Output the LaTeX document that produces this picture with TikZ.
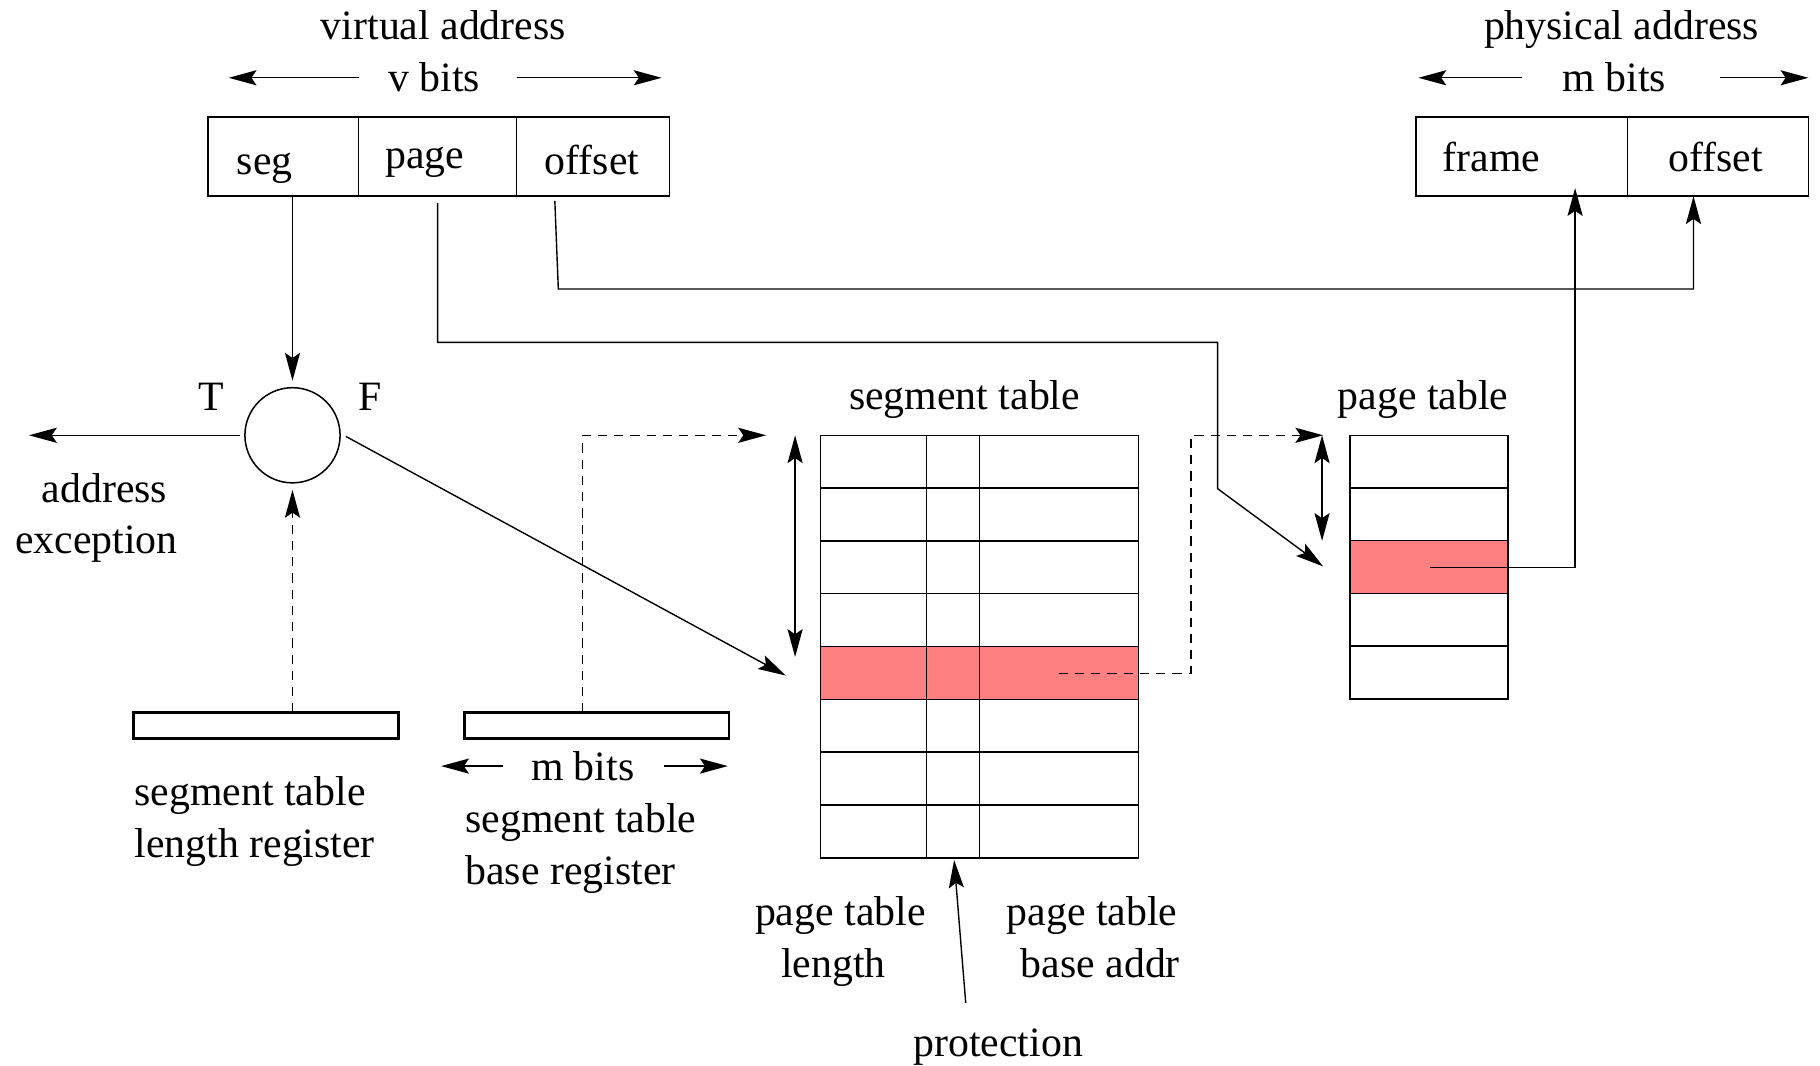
\documentclass[tikz,border=0pt]{standalone}
\usepackage{fontspec}
\setmainfont{Liberation Serif}
\usetikzlibrary{arrows.meta}
\definecolor{hilite}{RGB}{255,128,128}
\begin{document}
\begin{tikzpicture}[x=0.5pt,y=-0.5pt,
  every node/.style={inner sep=0pt,outer sep=0pt,font=\fontsize{18}{22}\selectfont},
  ln/.style={line width=0.6pt},
  tip/.style={-{Stealth[length=12pt,width=6.5pt,inset=2.2pt]}},
  arr/.style={ln,tip},
  darr/.style={ln,{Stealth[length=12pt,width=6.5pt,inset=2.2pt]}-{Stealth[length=12pt,width=6.5pt,inset=2.2pt]}},
  dsh/.style={ln,dash pattern=on 4pt off 3pt},
  cell/.style={draw,line width=0.65pt,minimum height=34pt},
  reg/.style={draw,line width=1.2pt,minimum width=114pt,minimum height=11pt},
  strow/.style={draw,line width=0.65pt,minimum width=137pt,minimum height=22.75pt},
  ptrow/.style={draw,line width=0.65pt,minimum width=68pt,minimum height=22.7pt},
  lbl/.style={anchor=base},
  lbll/.style={anchor=base west}]
\useasboundingbox (0,0) rectangle (1568,917.6);

% virtual address
\node[cell,minimum width=65pt] (segc) at (244,135) {};
\node[cell,minimum width=68pt] (pagec) at (377,135) {};
\node[cell,minimum width=66pt] (offc) at (511,135) {};
\node[lbl] (tseg) at (228,150) {seg};
\node[lbl] (tpage) at (366,145) {page};
\node[lbl] (toff) at (510,150) {offset};
\node[lbl] (tva) at (382,34) {virtual address};
\node[lbl] (tvb) at (374,79) {v bits};
\coordinate (vbl) at (197,67);
\coordinate (vbr) at (570,67);
\draw[arr] (309,67) -- (vbl);
\draw[arr] (445,67) -- (vbr);

% physical address
\node[cell,minimum width=91pt] (framec) at (1311,135) {};
\node[cell,minimum width=78pt] (poffc) at (1480,135) {};
\node[lbl] (tframe) at (1285,148) {frame};
\node[lbl] (tpoff) at (1478,148) {offset};
\node[lbl] (tpa) at (1397,34) {physical address};
\node[lbl] (tmb) at (1391,79) {m bits};
\coordinate (mbl) at (1222,67);
\coordinate (mbr) at (1558,67);
\draw[arr] (1311,67) -- (mbl);
\draw[arr] (1482,67) -- (mbr);

% condition circle
\node[circle,draw,line width=0.65pt,minimum size=41pt] (cond) at (252,375) {};
\node[lbl] (tT) at (182,354) {T};
\node[lbl] (tF) at (319,354) {F};
\coordinate (exc) at (25,375);
\draw[arr] ([xshift=-2pt]cond.west) -- (exc);
\node[lbl] (taddr) at (90,433) {address};
\node[lbl] (texc) at (83,477) {exception};
\draw[arr] (segc.south -| cond.north) -- ([yshift=3pt]cond.north);

% registers
\node[reg] (lenreg) at (229,625) {};
\node[reg] (basereg) at (514,625) {};
\node[lbll] (tl1) at (116,694) {segment table};
\node[lbll] (tl2) at (116,739) {length register};
\node[lbl] (tmb2) at (502,672) {m bits};
\draw[arr] (433,660) -- (380,660);
\draw[arr] (572,660) -- (627,660);
\node[lbll] (tb1) at (401,717) {segment table};
\node[lbll] (tb2) at (401,762) {base register};
\draw[dsh,tip] (cond.south |- lenreg.north) -- ([yshift=-3pt]cond.south);

% segment table
\foreach \i in {1,...,8}{
  \pgfmathsetmacro{\yy}{375+45.5*(\i-0.5)}
  \ifnum\i=5
    \node[strow,fill=hilite] (s\i) at (844,\yy) {};
  \else
    \node[strow] (s\i) at (844,\yy) {};
  \fi
}
\draw[ln] (798,375) -- (798,739);
\draw[ln] (844,375) -- (844,739);
\node[lbl] (tst) at (831,353) {segment table};
\draw[darr] (685,375) -- (685,566);
\coordinate (stin) at (677,582);
\draw[arr] ([xshift=2.5pt,yshift=-0.5pt]cond.east) -- (stin);
\coordinate (bt) at (660,375);
\draw[dsh,tip] (basereg.north -| 502,0) -- (502,375) -- (bt);

\node[lbl] (tptl1) at (724,797) {page table};
\node[lbl] (tptl2) at (718,842) {length};
\node[lbl] (tpba1) at (941,797) {page table};
\node[lbl] (tpba2) at (948,842) {base addr};
\node[lbl] (tprot) at (860,910) {protection};
\coordinate (prots) at (832,864);
\draw[arr] (prots) -- (822,741);

% page table
\foreach \i in {1,...,5}{
  \pgfmathsetmacro{\yy}{375+45.4*(\i-0.5)}
  \ifnum\i=3
    \node[ptrow,fill=hilite] (p\i) at (1231,\yy) {};
  \else
    \node[ptrow] (p\i) at (1231,\yy) {};
  \fi
}
\node[lbl] (tpt) at (1226,353) {page table};
\draw[darr] (1139,375) -- (1139,466);
\coordinate (pt) at (1140,375);
\draw[dsh,tip] (912,580) -- (1026,580) -- (1026,375) -- (pt);

% page connector
\coordinate (pin) at (1140,488);
\draw[arr] (377,175) -- (377,295) -- (1049,295) -- (1049,421) -- (pin);
% offset connector
\draw[arr] (478,173) -- (481,249) -- (1459,249) -- (poffc.south -| 1459,0);
% frame connector
\draw[arr] (1232,489) -- (1357,489) -- (1357,162);
\end{tikzpicture}
\end{document}
